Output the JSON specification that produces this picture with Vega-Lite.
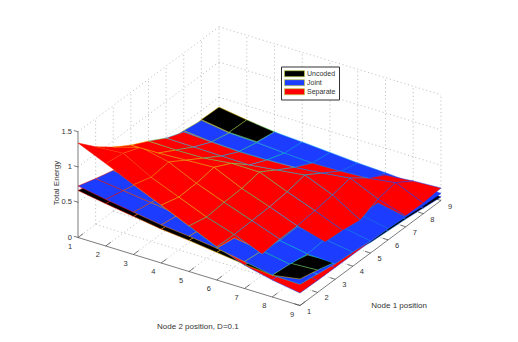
{"$schema":"https://vega.github.io/schema/vega-lite/v6.json","width":518,"height":342,"padding":0,"autosize":{"type":"none"},"background":"white","view":{"stroke":null},
"config":{"text":{"font":"Liberation Sans","fontSize":7.5,"fill":"#333"}},
"datasets":{"surface":[
{"s":"Uncoded","a":1,"b":1,"z":0.667},{"s":"Uncoded","a":1,"b":2,"z":0.6},{"s":"Uncoded","a":1,"b":3,"z":0.54},{"s":"Uncoded","a":1,"b":4,"z":0.48},{"s":"Uncoded","a":1,"b":5,"z":0.44},{"s":"Uncoded","a":1,"b":6,"z":0.39},{"s":"Uncoded","a":1,"b":7,"z":0.34},{"s":"Uncoded","a":1,"b":8,"z":0.31},{"s":"Uncoded","a":1,"b":9,"z":0.376},
{"s":"Uncoded","a":2,"b":1,"z":0.6},{"s":"Uncoded","a":2,"b":2,"z":0.55},{"s":"Uncoded","a":2,"b":3,"z":0.5},{"s":"Uncoded","a":2,"b":4,"z":0.45},{"s":"Uncoded","a":2,"b":5,"z":0.41},{"s":"Uncoded","a":2,"b":6,"z":0.36},{"s":"Uncoded","a":2,"b":7,"z":0.3},{"s":"Uncoded","a":2,"b":8,"z":0.297},{"s":"Uncoded","a":2,"b":9,"z":0.318},
{"s":"Uncoded","a":3,"b":1,"z":0.54},{"s":"Uncoded","a":3,"b":2,"z":0.5},{"s":"Uncoded","a":3,"b":3,"z":0.46},{"s":"Uncoded","a":3,"b":4,"z":0.42},{"s":"Uncoded","a":3,"b":5,"z":0.38},{"s":"Uncoded","a":3,"b":6,"z":0.33},{"s":"Uncoded","a":3,"b":7,"z":0.27},{"s":"Uncoded","a":3,"b":8,"z":0.223},{"s":"Uncoded","a":3,"b":9,"z":0.245},
{"s":"Uncoded","a":4,"b":1,"z":0.48},{"s":"Uncoded","a":4,"b":2,"z":0.45},{"s":"Uncoded","a":4,"b":3,"z":0.42},{"s":"Uncoded","a":4,"b":4,"z":0.38},{"s":"Uncoded","a":4,"b":5,"z":0.35},{"s":"Uncoded","a":4,"b":6,"z":0.3},{"s":"Uncoded","a":4,"b":7,"z":0.25},{"s":"Uncoded","a":4,"b":8,"z":0.18},{"s":"Uncoded","a":4,"b":9,"z":0.2},
{"s":"Uncoded","a":5,"b":1,"z":0.43},{"s":"Uncoded","a":5,"b":2,"z":0.4},{"s":"Uncoded","a":5,"b":3,"z":0.38},{"s":"Uncoded","a":5,"b":4,"z":0.34},{"s":"Uncoded","a":5,"b":5,"z":0.31},{"s":"Uncoded","a":5,"b":6,"z":0.27},{"s":"Uncoded","a":5,"b":7,"z":0.22},{"s":"Uncoded","a":5,"b":8,"z":0.16},{"s":"Uncoded","a":5,"b":9,"z":0.15},
{"s":"Uncoded","a":6,"b":1,"z":0.38},{"s":"Uncoded","a":6,"b":2,"z":0.35},{"s":"Uncoded","a":6,"b":3,"z":0.33},{"s":"Uncoded","a":6,"b":4,"z":0.3},{"s":"Uncoded","a":6,"b":5,"z":0.27},{"s":"Uncoded","a":6,"b":6,"z":0.24},{"s":"Uncoded","a":6,"b":7,"z":0.2},{"s":"Uncoded","a":6,"b":8,"z":0.14},{"s":"Uncoded","a":6,"b":9,"z":0.13},
{"s":"Uncoded","a":7,"b":1,"z":0.34},{"s":"Uncoded","a":7,"b":2,"z":0.31},{"s":"Uncoded","a":7,"b":3,"z":0.29},{"s":"Uncoded","a":7,"b":4,"z":0.27},{"s":"Uncoded","a":7,"b":5,"z":0.24},{"s":"Uncoded","a":7,"b":6,"z":0.21},{"s":"Uncoded","a":7,"b":7,"z":0.18},{"s":"Uncoded","a":7,"b":8,"z":0.15},{"s":"Uncoded","a":7,"b":9,"z":0.11},
{"s":"Uncoded","a":8,"b":1,"z":0.37},{"s":"Uncoded","a":8,"b":2,"z":0.31},{"s":"Uncoded","a":8,"b":3,"z":0.297},{"s":"Uncoded","a":8,"b":4,"z":0.24},{"s":"Uncoded","a":8,"b":5,"z":0.21},{"s":"Uncoded","a":8,"b":6,"z":0.19},{"s":"Uncoded","a":8,"b":7,"z":0.16},{"s":"Uncoded","a":8,"b":8,"z":0.12},{"s":"Uncoded","a":8,"b":9,"z":0.08},
{"s":"Uncoded","a":9,"b":1,"z":0.36},{"s":"Uncoded","a":9,"b":2,"z":0.3},{"s":"Uncoded","a":9,"b":3,"z":0.25},{"s":"Uncoded","a":9,"b":4,"z":0.2},{"s":"Uncoded","a":9,"b":5,"z":0.17},{"s":"Uncoded","a":9,"b":6,"z":0.15},{"s":"Uncoded","a":9,"b":7,"z":0.11},{"s":"Uncoded","a":9,"b":8,"z":0.08},{"s":"Uncoded","a":9,"b":9,"z":0.05},
{"s":"Joint","a":1,"b":1,"z":0.73},{"s":"Joint","a":1,"b":2,"z":0.66},{"s":"Joint","a":1,"b":3,"z":0.6},{"s":"Joint","a":1,"b":4,"z":0.54},{"s":"Joint","a":1,"b":5,"z":0.5},{"s":"Joint","a":1,"b":6,"z":0.45},{"s":"Joint","a":1,"b":7,"z":0.38},{"s":"Joint","a":1,"b":8,"z":0.31},{"s":"Joint","a":1,"b":9,"z":0.3},
{"s":"Joint","a":2,"b":1,"z":0.65},{"s":"Joint","a":2,"b":2,"z":0.6},{"s":"Joint","a":2,"b":3,"z":0.55},{"s":"Joint","a":2,"b":4,"z":0.5},{"s":"Joint","a":2,"b":5,"z":0.46},{"s":"Joint","a":2,"b":6,"z":0.41},{"s":"Joint","a":2,"b":7,"z":0.35},{"s":"Joint","a":2,"b":8,"z":0.28},{"s":"Joint","a":2,"b":9,"z":0.26},
{"s":"Joint","a":3,"b":1,"z":0.58},{"s":"Joint","a":3,"b":2,"z":0.54},{"s":"Joint","a":3,"b":3,"z":0.5},{"s":"Joint","a":3,"b":4,"z":0.46},{"s":"Joint","a":3,"b":5,"z":0.42},{"s":"Joint","a":3,"b":6,"z":0.37},{"s":"Joint","a":3,"b":7,"z":0.31},{"s":"Joint","a":3,"b":8,"z":0.24},{"s":"Joint","a":3,"b":9,"z":0.22},
{"s":"Joint","a":4,"b":1,"z":0.52},{"s":"Joint","a":4,"b":2,"z":0.49},{"s":"Joint","a":4,"b":3,"z":0.45},{"s":"Joint","a":4,"b":4,"z":0.42},{"s":"Joint","a":4,"b":5,"z":0.39},{"s":"Joint","a":4,"b":6,"z":0.34},{"s":"Joint","a":4,"b":7,"z":0.32},{"s":"Joint","a":4,"b":8,"z":0.26},{"s":"Joint","a":4,"b":9,"z":0.2},
{"s":"Joint","a":5,"b":1,"z":0.47},{"s":"Joint","a":5,"b":2,"z":0.44},{"s":"Joint","a":5,"b":3,"z":0.41},{"s":"Joint","a":5,"b":4,"z":0.39},{"s":"Joint","a":5,"b":5,"z":0.36},{"s":"Joint","a":5,"b":6,"z":0.32},{"s":"Joint","a":5,"b":7,"z":0.26},{"s":"Joint","a":5,"b":8,"z":0.248},{"s":"Joint","a":5,"b":9,"z":0.17},
{"s":"Joint","a":6,"b":1,"z":0.43},{"s":"Joint","a":6,"b":2,"z":0.4},{"s":"Joint","a":6,"b":3,"z":0.38},{"s":"Joint","a":6,"b":4,"z":0.36},{"s":"Joint","a":6,"b":5,"z":0.33},{"s":"Joint","a":6,"b":6,"z":0.3},{"s":"Joint","a":6,"b":7,"z":0.25},{"s":"Joint","a":6,"b":8,"z":0.24},{"s":"Joint","a":6,"b":9,"z":0.16},
{"s":"Joint","a":7,"b":1,"z":0.4},{"s":"Joint","a":7,"b":2,"z":0.36},{"s":"Joint","a":7,"b":3,"z":0.345},{"s":"Joint","a":7,"b":4,"z":0.345},{"s":"Joint","a":7,"b":5,"z":0.36},{"s":"Joint","a":7,"b":6,"z":0.3},{"s":"Joint","a":7,"b":7,"z":0.24},{"s":"Joint","a":7,"b":8,"z":0.216},{"s":"Joint","a":7,"b":9,"z":0.139},
{"s":"Joint","a":8,"b":1,"z":0.36},{"s":"Joint","a":8,"b":2,"z":0.3},{"s":"Joint","a":8,"b":3,"z":0.285},{"s":"Joint","a":8,"b":4,"z":0.257},{"s":"Joint","a":8,"b":5,"z":0.235},{"s":"Joint","a":8,"b":6,"z":0.235},{"s":"Joint","a":8,"b":7,"z":0.22},{"s":"Joint","a":8,"b":8,"z":0.16},{"s":"Joint","a":8,"b":9,"z":0.11},
{"s":"Joint","a":9,"b":1,"z":0.34},{"s":"Joint","a":9,"b":2,"z":0.29},{"s":"Joint","a":9,"b":3,"z":0.25},{"s":"Joint","a":9,"b":4,"z":0.227},{"s":"Joint","a":9,"b":5,"z":0.2},{"s":"Joint","a":9,"b":6,"z":0.17},{"s":"Joint","a":9,"b":7,"z":0.153},{"s":"Joint","a":9,"b":8,"z":0.125},{"s":"Joint","a":9,"b":9,"z":0.1},
{"s":"Separate","a":1,"b":1,"z":1.34},{"s":"Separate","a":1,"b":2,"z":1.17},{"s":"Separate","a":1,"b":3,"z":0.99},{"s":"Separate","a":1,"b":4,"z":0.82},{"s":"Separate","a":1,"b":5,"z":0.645},{"s":"Separate","a":1,"b":6,"z":0.47},{"s":"Separate","a":1,"b":7,"z":0.33},{"s":"Separate","a":1,"b":8,"z":0.24},{"s":"Separate","a":1,"b":9,"z":0.177},
{"s":"Separate","a":2,"b":1,"z":1.1},{"s":"Separate","a":2,"b":2,"z":1.13},{"s":"Separate","a":2,"b":3,"z":0.91},{"s":"Separate","a":2,"b":4,"z":0.75},{"s":"Separate","a":2,"b":5,"z":0.587},{"s":"Separate","a":2,"b":6,"z":0.46},{"s":"Separate","a":2,"b":7,"z":0.3},{"s":"Separate","a":2,"b":8,"z":0.23},{"s":"Separate","a":2,"b":9,"z":0.17},
{"s":"Separate","a":3,"b":1,"z":0.91},{"s":"Separate","a":3,"b":2,"z":1.03},{"s":"Separate","a":3,"b":3,"z":0.94},{"s":"Separate","a":3,"b":4,"z":0.76},{"s":"Separate","a":3,"b":5,"z":0.61},{"s":"Separate","a":3,"b":6,"z":0.47},{"s":"Separate","a":3,"b":7,"z":0.33},{"s":"Separate","a":3,"b":8,"z":0.21},{"s":"Separate","a":3,"b":9,"z":0.167},
{"s":"Separate","a":4,"b":1,"z":0.753},{"s":"Separate","a":4,"b":2,"z":0.76},{"s":"Separate","a":4,"b":3,"z":0.78},{"s":"Separate","a":4,"b":4,"z":0.8},{"s":"Separate","a":4,"b":5,"z":0.62},{"s":"Separate","a":4,"b":6,"z":0.48},{"s":"Separate","a":4,"b":7,"z":0.33},{"s":"Separate","a":4,"b":8,"z":0.22},{"s":"Separate","a":4,"b":9,"z":0.165},
{"s":"Separate","a":5,"b":1,"z":0.624},{"s":"Separate","a":5,"b":2,"z":0.617},{"s":"Separate","a":5,"b":3,"z":0.624},{"s":"Separate","a":5,"b":4,"z":0.67},{"s":"Separate","a":5,"b":5,"z":0.667},{"s":"Separate","a":5,"b":6,"z":0.507},{"s":"Separate","a":5,"b":7,"z":0.36},{"s":"Separate","a":5,"b":8,"z":0.2},{"s":"Separate","a":5,"b":9,"z":0.163},
{"s":"Separate","a":6,"b":1,"z":0.48},{"s":"Separate","a":6,"b":2,"z":0.474},{"s":"Separate","a":6,"b":3,"z":0.467},{"s":"Separate","a":6,"b":4,"z":0.46},{"s":"Separate","a":6,"b":5,"z":0.51},{"s":"Separate","a":6,"b":6,"z":0.559},{"s":"Separate","a":6,"b":7,"z":0.397},{"s":"Separate","a":6,"b":8,"z":0.16},{"s":"Separate","a":6,"b":9,"z":0.16},
{"s":"Separate","a":7,"b":1,"z":0.38},{"s":"Separate","a":7,"b":2,"z":0.358},{"s":"Separate","a":7,"b":3,"z":0.34},{"s":"Separate","a":7,"b":4,"z":0.344},{"s":"Separate","a":7,"b":5,"z":0.36},{"s":"Separate","a":7,"b":6,"z":0.4},{"s":"Separate","a":7,"b":7,"z":0.45},{"s":"Separate","a":7,"b":8,"z":0.273},{"s":"Separate","a":7,"b":9,"z":0.155},
{"s":"Separate","a":8,"b":1,"z":0.29},{"s":"Separate","a":8,"b":2,"z":0.27},{"s":"Separate","a":8,"b":3,"z":0.25},{"s":"Separate","a":8,"b":4,"z":0.24},{"s":"Separate","a":8,"b":5,"z":0.235},{"s":"Separate","a":8,"b":6,"z":0.243},{"s":"Separate","a":8,"b":7,"z":0.264},{"s":"Separate","a":8,"b":8,"z":0.32},{"s":"Separate","a":8,"b":9,"z":0.15},
{"s":"Separate","a":9,"b":1,"z":0.25},{"s":"Separate","a":9,"b":2,"z":0.23},{"s":"Separate","a":9,"b":3,"z":0.21},{"s":"Separate","a":9,"b":4,"z":0.19},{"s":"Separate","a":9,"b":5,"z":0.17},{"s":"Separate","a":9,"b":6,"z":0.12},{"s":"Separate","a":9,"b":7,"z":0.12},{"s":"Separate","a":9,"b":8,"z":0.156},{"s":"Separate","a":9,"b":9,"z":0.177}
],
"grid":[
{"a":1,"b":1,"z":0,"a2":9,"b2":1,"z2":0},{"a":1,"b":2,"z":0,"a2":9,"b2":2,"z2":0},{"a":1,"b":3,"z":0,"a2":9,"b2":3,"z2":0},{"a":1,"b":4,"z":0,"a2":9,"b2":4,"z2":0},{"a":1,"b":5,"z":0,"a2":9,"b2":5,"z2":0},{"a":1,"b":6,"z":0,"a2":9,"b2":6,"z2":0},{"a":1,"b":7,"z":0,"a2":9,"b2":7,"z2":0},{"a":1,"b":8,"z":0,"a2":9,"b2":8,"z2":0},
{"a":2,"b":1,"z":0,"a2":2,"b2":9,"z2":0},{"a":3,"b":1,"z":0,"a2":3,"b2":9,"z2":0},{"a":4,"b":1,"z":0,"a2":4,"b2":9,"z2":0},{"a":5,"b":1,"z":0,"a2":5,"b2":9,"z2":0},{"a":6,"b":1,"z":0,"a2":6,"b2":9,"z2":0},{"a":7,"b":1,"z":0,"a2":7,"b2":9,"z2":0},{"a":8,"b":1,"z":0,"a2":8,"b2":9,"z2":0},{"a":9,"b":1,"z":0,"a2":9,"b2":9,"z2":0},
{"a":2,"b":1,"z":0,"a2":2,"b2":1,"z2":1.5},{"a":3,"b":1,"z":0,"a2":3,"b2":1,"z2":1.5},{"a":4,"b":1,"z":0,"a2":4,"b2":1,"z2":1.5},{"a":5,"b":1,"z":0,"a2":5,"b2":1,"z2":1.5},{"a":6,"b":1,"z":0,"a2":6,"b2":1,"z2":1.5},{"a":7,"b":1,"z":0,"a2":7,"b2":1,"z2":1.5},{"a":8,"b":1,"z":0,"a2":8,"b2":1,"z2":1.5},{"a":9,"b":1,"z":0,"a2":9,"b2":1,"z2":1.5},
{"a":9,"b":2,"z":0,"a2":9,"b2":2,"z2":1.5},{"a":9,"b":3,"z":0,"a2":9,"b2":3,"z2":1.5},{"a":9,"b":4,"z":0,"a2":9,"b2":4,"z2":1.5},{"a":9,"b":5,"z":0,"a2":9,"b2":5,"z2":1.5},{"a":9,"b":6,"z":0,"a2":9,"b2":6,"z2":1.5},{"a":9,"b":7,"z":0,"a2":9,"b2":7,"z2":1.5},{"a":9,"b":8,"z":0,"a2":9,"b2":8,"z2":1.5},{"a":9,"b":9,"z":0,"a2":9,"b2":9,"z2":1.5},
{"a":1,"b":1,"z":0.5,"a2":9,"b2":1,"z2":0.5},{"a":1,"b":1,"z":1,"a2":9,"b2":1,"z2":1},{"a":1,"b":1,"z":1.5,"a2":9,"b2":1,"z2":1.5},
{"a":9,"b":1,"z":0.5,"a2":9,"b2":9,"z2":0.5},{"a":9,"b":1,"z":1,"a2":9,"b2":9,"z2":1},{"a":9,"b":1,"z":1.5,"a2":9,"b2":9,"z2":1.5}
],
"axes":[
{"a":1,"b":1,"z":0,"a2":1,"b2":9,"z2":0},{"a":1,"b":9,"z":0,"a2":9,"b2":9,"z2":0},{"a":1,"b":1,"z":0,"a2":1,"b2":1,"z2":1.5},
{"a":1,"b":1,"z":0,"a2":1.3,"b2":1,"z2":0},{"a":1,"b":2,"z":0,"a2":1.3,"b2":2,"z2":0},{"a":1,"b":3,"z":0,"a2":1.3,"b2":3,"z2":0},{"a":1,"b":4,"z":0,"a2":1.3,"b2":4,"z2":0},{"a":1,"b":5,"z":0,"a2":1.3,"b2":5,"z2":0},{"a":1,"b":6,"z":0,"a2":1.3,"b2":6,"z2":0},{"a":1,"b":7,"z":0,"a2":1.3,"b2":7,"z2":0},{"a":1,"b":8,"z":0,"a2":1.3,"b2":8,"z2":0},{"a":1,"b":9,"z":0,"a2":1.3,"b2":9,"z2":0},
{"a":1,"b":9,"z":0,"a2":1,"b2":8.8,"z2":0},{"a":2,"b":9,"z":0,"a2":2,"b2":8.8,"z2":0},{"a":3,"b":9,"z":0,"a2":3,"b2":8.8,"z2":0},{"a":4,"b":9,"z":0,"a2":4,"b2":8.8,"z2":0},{"a":5,"b":9,"z":0,"a2":5,"b2":8.8,"z2":0},{"a":6,"b":9,"z":0,"a2":6,"b2":8.8,"z2":0},{"a":7,"b":9,"z":0,"a2":7,"b2":8.8,"z2":0},{"a":8,"b":9,"z":0,"a2":8,"b2":8.8,"z2":0},{"a":9,"b":9,"z":0,"a2":9,"b2":8.8,"z2":0},
{"a":1,"b":1,"z":0,"a2":1,"b2":0.85,"z2":0},{"a":1,"b":1,"z":0.5,"a2":1,"b2":0.85,"z2":0.5},{"a":1,"b":1,"z":1,"a2":1,"b2":0.85,"z2":1},{"a":1,"b":1,"z":1.5,"a2":1,"b2":0.85,"z2":1.5}
]},
"layer":[
{"data":{"name":"grid"},"transform":[{"calculate":"78+27.75*(datum.b-1)+17.625*(datum.a-1)","as":"sx"},{"calculate":"237.5+8.5*(datum.b-1)-13.125*(datum.a-1)-70.5*datum.z","as":"sy"},{"calculate":"78+27.75*(datum.b2-1)+17.625*(datum.a2-1)","as":"sx2"},{"calculate":"237.5+8.5*(datum.b2-1)-13.125*(datum.a2-1)-70.5*datum.z2","as":"sy2"}],
"mark":{"type":"rule","color":"#aaa","strokeWidth":0.7,"strokeDash":[1.2,2.6]},
"encoding":{"x":{"field":"sx","type":"quantitative","axis":null,"scale":{"domain":[0,518],"nice":false,"zero":false}},"y":{"field":"sy","type":"quantitative","axis":null,"scale":{"domain":[342,0],"nice":false,"zero":false}},"x2":{"field":"sx2"},"y2":{"field":"sy2"}}},
{"data":{"name":"axes"},"transform":[{"calculate":"78+27.75*(datum.b-1)+17.625*(datum.a-1)","as":"sx"},{"calculate":"237.5+8.5*(datum.b-1)-13.125*(datum.a-1)-70.5*datum.z","as":"sy"},{"calculate":"78+27.75*(datum.b2-1)+17.625*(datum.a2-1)","as":"sx2"},{"calculate":"237.5+8.5*(datum.b2-1)-13.125*(datum.a2-1)-70.5*datum.z2","as":"sy2"}],
"mark":{"type":"rule","color":"#444","strokeWidth":0.7},
"encoding":{"x":{"field":"sx","type":"quantitative","axis":null,"scale":{"domain":[0,518],"nice":false,"zero":false}},"y":{"field":"sy","type":"quantitative","axis":null,"scale":{"domain":[342,0],"nice":false,"zero":false}},"x2":{"field":"sx2"},"y2":{"field":"sy2"}}},
{"data":{"name":"surface"},
"transform":[
{"joinaggregate":[{"op":"min","field":"z","as":"lo"},{"op":"max","field":"z","as":"hi"}],"groupby":["s"]},
{"window":[{"op":"lead","field":"z","as":"zb"}],"groupby":["s","a"],"sort":[{"field":"b"}]},
{"window":[{"op":"lead","field":"z","as":"za"},{"op":"lead","field":"zb","as":"zab"}],"groupby":["s","b"],"sort":[{"field":"a"}]},
{"filter":"datum.a<9&&datum.b<9"},
{"calculate":"(datum.z+datum.zb+datum.za+datum.zab)/4","as":"m"},
{"calculate":"(datum.m-datum.lo)/(datum.hi-datum.lo)","as":"t"},
{"window":[{"op":"row_number","as":"rk"}],"groupby":["a","b"],"sort":[{"field":"m"}]},
{"calculate":"datum.s+'-'+datum.a+'-'+datum.b","as":"cell"},
{"fold":["z","zb","zab","za"],"as":["corner","h"]},
{"calculate":"indexof(['z','zb','zab','za'],datum.corner)","as":"idx"},
{"calculate":"datum.a+(datum.idx>=2?1:0)","as":"A"},
{"calculate":"datum.b+(datum.idx==1||datum.idx==2?1:0)","as":"B"},
{"calculate":"78+27.75*(datum.B-1)+17.625*(datum.A-1)","as":"sx"},
{"calculate":"237.5+8.5*(datum.B-1)-13.125*(datum.A-1)-70.5*datum.h","as":"sy"}],
"encoding":{"x":{"field":"sx","type":"quantitative","axis":null,"scale":{"domain":[0,518],"nice":false,"zero":false}},"y":{"field":"sy","type":"quantitative","axis":null,"scale":{"domain":[342,0],"nice":false,"zero":false}},"order":{"field":"idx","type":"quantitative"},"detail":{"field":"cell"},
"fill":{"field":"s","type":"nominal","scale":{"domain":["Uncoded","Joint","Separate"],"range":["#000000","#1c3cff","#ff0000"]},"legend":{"title":null,"orient":"none","legendX":281,"legendY":66.5,"fillColor":"white","strokeColor":"#333","padding":3,"symbolType":"M-1,-0.3H1V0.3H-1Z","symbolSize":400,"clipHeight":8.4,"rowPadding":0,"symbolStrokeColor":"#b8c840","symbolStrokeWidth":0.7,"labelFont":"Liberation Sans","labelFontSize":7,"labelColor":"#333","labelOffset":2}},
"stroke":{"field":"t","type":"quantitative","scale":{"type":"linear","domain":[0,0.1,0.25,0.42,0.6,0.8,1],"range":["#0000ff","#3050f0","#40c0f0","#e8d000","#ffa000","#ff1000","#e00000"]},"legend":null}},
"layer":[
{"transform":[{"filter":"datum.rk==1"}],"mark":{"type":"line","filled":true,"interpolate":"linear-closed","strokeWidth":0.5}},
{"transform":[{"filter":"datum.rk==2"}],"mark":{"type":"line","filled":true,"interpolate":"linear-closed","strokeWidth":0.5}},
{"transform":[{"filter":"datum.rk==3"}],"mark":{"type":"line","filled":true,"interpolate":"linear-closed","strokeWidth":0.5}}
]},
{"data":{"values":[{"a":1,"b":1,"z":0,"t":"1"},{"a":1,"b":2,"z":0,"t":"2"},{"a":1,"b":3,"z":0,"t":"3"},{"a":1,"b":4,"z":0,"t":"4"},{"a":1,"b":5,"z":0,"t":"5"},{"a":1,"b":6,"z":0,"t":"6"},{"a":1,"b":7,"z":0,"t":"7"},{"a":1,"b":8,"z":0,"t":"8"},{"a":1,"b":9,"z":0,"t":"9"}]},"transform":[{"calculate":"78+27.75*(datum.b-1)+17.625*(datum.a-1)","as":"sx"},{"calculate":"237.5+8.5*(datum.b-1)-13.125*(datum.a-1)-70.5*datum.z","as":"sy"}],
"mark":{"type":"text","dx":-8,"dy":9},"encoding":{"x":{"field":"sx","type":"quantitative","axis":null,"scale":{"domain":[0,518],"nice":false,"zero":false}},"y":{"field":"sy","type":"quantitative","axis":null,"scale":{"domain":[342,0],"nice":false,"zero":false}},"text":{"field":"t"}}},
{"data":{"values":[{"a":1,"b":9,"z":0,"t":"1"},{"a":2,"b":9,"z":0,"t":"2"},{"a":3,"b":9,"z":0,"t":"3"},{"a":4,"b":9,"z":0,"t":"4"},{"a":5,"b":9,"z":0,"t":"5"},{"a":6,"b":9,"z":0,"t":"6"},{"a":7,"b":9,"z":0,"t":"7"},{"a":8,"b":9,"z":0,"t":"8"},{"a":9,"b":9,"z":0,"t":"9"}]},"transform":[{"calculate":"78+27.75*(datum.b-1)+17.625*(datum.a-1)","as":"sx"},{"calculate":"237.5+8.5*(datum.b-1)-13.125*(datum.a-1)-70.5*datum.z","as":"sy"}],
"mark":{"type":"text","dx":9,"dy":6},"encoding":{"x":{"field":"sx","type":"quantitative","axis":null,"scale":{"domain":[0,518],"nice":false,"zero":false}},"y":{"field":"sy","type":"quantitative","axis":null,"scale":{"domain":[342,0],"nice":false,"zero":false}},"text":{"field":"t"}}},
{"data":{"values":[{"a":1,"b":1,"z":0,"t":"0"},{"a":1,"b":1,"z":0.5,"t":"0.5"},{"a":1,"b":1,"z":1,"t":"1"},{"a":1,"b":1,"z":1.5,"t":"1.5"}]},"transform":[{"calculate":"78+27.75*(datum.b-1)+17.625*(datum.a-1)","as":"sx"},{"calculate":"237.5+8.5*(datum.b-1)-13.125*(datum.a-1)-70.5*datum.z","as":"sy"}],
"mark":{"type":"text","align":"right","dx":-6},"encoding":{"x":{"field":"sx","type":"quantitative","axis":null,"scale":{"domain":[0,518],"nice":false,"zero":false}},"y":{"field":"sy","type":"quantitative","axis":null,"scale":{"domain":[342,0],"nice":false,"zero":false}},"text":{"field":"t"}}},
{"data":{"values":[{"a":-1.85,"b":7.13,"z":0,"t":"Node 2 position, D=0.1"},{"a":2.61,"b":11.55,"z":0,"t":"Node 1 position"}]},"transform":[{"calculate":"78+27.75*(datum.b-1)+17.625*(datum.a-1)","as":"sx"},{"calculate":"237.5+8.5*(datum.b-1)-13.125*(datum.a-1)-70.5*datum.z","as":"sy"}],
"mark":{"type":"text","fontSize":8},"encoding":{"x":{"field":"sx","type":"quantitative","axis":null,"scale":{"domain":[0,518],"nice":false,"zero":false}},"y":{"field":"sy","type":"quantitative","axis":null,"scale":{"domain":[342,0],"nice":false,"zero":false}},"text":{"field":"t"}}},
{"data":{"values":[{"a":0.74,"b":0.41,"z":0.75,"t":"Total Energy"}]},"transform":[{"calculate":"78+27.75*(datum.b-1)+17.625*(datum.a-1)","as":"sx"},{"calculate":"237.5+8.5*(datum.b-1)-13.125*(datum.a-1)-70.5*datum.z","as":"sy"}],
"mark":{"type":"text","angle":270,"fontSize":8},"encoding":{"x":{"field":"sx","type":"quantitative","axis":null,"scale":{"domain":[0,518],"nice":false,"zero":false}},"y":{"field":"sy","type":"quantitative","axis":null,"scale":{"domain":[342,0],"nice":false,"zero":false}},"text":{"field":"t"}}}
]}
